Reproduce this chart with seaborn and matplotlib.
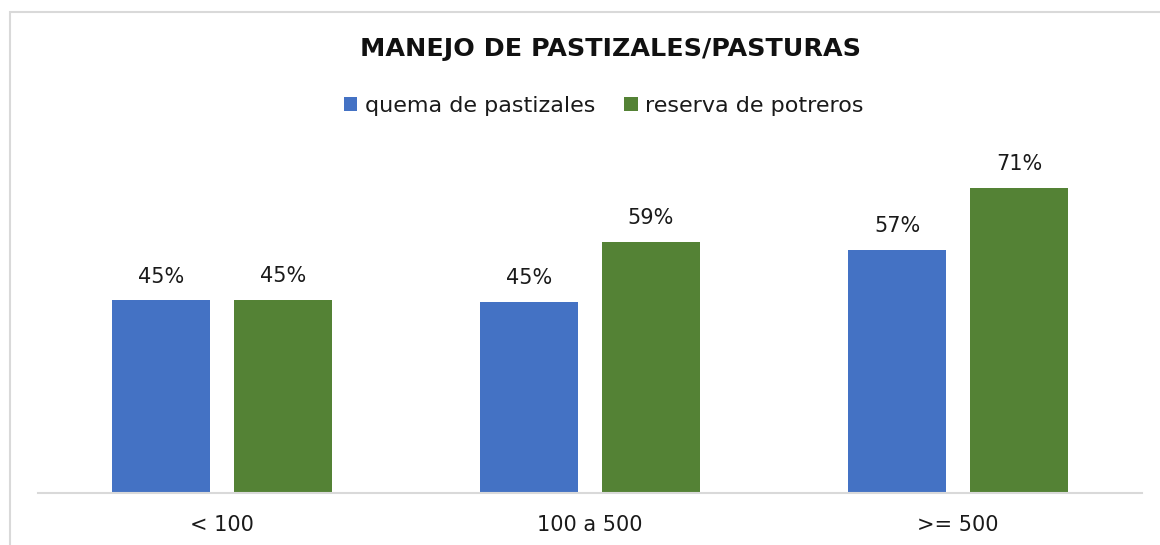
import matplotlib
matplotlib.use("Agg")
import matplotlib.pyplot as plt
import matplotlib.patches as mpatches
import seaborn as sns
import pandas as pd

categories = ["< 100", "100 a 500", ">= 500"]
series_names = ["quema de pastizales", "reserva de potreros"]
quema = [45.0, 44.6, 56.8]
reserva = [45.2, 58.6, 71.2]
colors = ["#4472C4", "#548235"]
title = "MANEJO DE PASTIZALES/PASTURAS"

df = pd.DataFrame({
    "cat": categories * 2,
    "serie": [series_names[0]] * 3 + [series_names[1]] * 3,
    "val": quema + reserva,
})

sns.set_theme(style="white")
plt.rcParams["font.family"] = ["DejaVu Sans"]

W, H = 1160, 545
fig = plt.figure(figsize=(W / 100, H / 100), dpi=100)
fig.patch.set_facecolor("white")

ymax = 80
ax_bottom_px = 493
ax_top_px = 493 - ymax * 4.28
ax = fig.add_axes([38 / W, (H - ax_bottom_px) / H, (1142 - 38) / W, (ax_bottom_px - ax_top_px) / H])

sns.barplot(data=df, x="cat", y="val", hue="serie", hue_order=series_names,
            order=categories, palette=colors, saturation=1, width=0.663, gap=0.2,
            linewidth=0, ax=ax, legend=True)

ax.set_ylim(0, ymax)
ax.set_xlim(-0.5, 2.5)
ax.set_xlabel("")
ax.set_ylabel("")
ax.set_yticks([])
for s in ["top", "right", "left"]:
    ax.spines[s].set_visible(False)
ax.spines["bottom"].set_color("#D9D9D9")
ax.spines["bottom"].set_linewidth(1.5)
ax.tick_params(axis="x", length=0, pad=16, labelsize=15, labelcolor="#1a1a1a")

for cont in ax.containers:
    ax.bar_label(cont, labels=[f"{v:.0f}%" for v in cont.datavalues],
                 padding=10, fontsize=15, color="#1a1a1a")

handles, labels = ax.get_legend_handles_labels()
ax.get_legend().remove()
fig.legend(handles, labels, loc="center", bbox_to_anchor=(604 / W, 1 - 106 / H),
           ncol=2, frameon=False, fontsize=16, handlelength=0.6, handleheight=0.6,
           handletextpad=0.35, columnspacing=1.3, labelcolor="#1a1a1a")

fig.text(610 / W, 1 - 49 / H, title, ha="center", va="center",
         fontsize=18.3, fontweight="bold", color="#111111")

border = mpatches.Rectangle((10 / W, -0.1), 1.2, (H - 12.5) / H + 0.1,
                            transform=fig.transFigure, fill=False,
                            edgecolor="#D9D9D9", linewidth=1.5)
fig.patches.append(border)

fig.savefig("out.png", dpi=100, facecolor="white")
